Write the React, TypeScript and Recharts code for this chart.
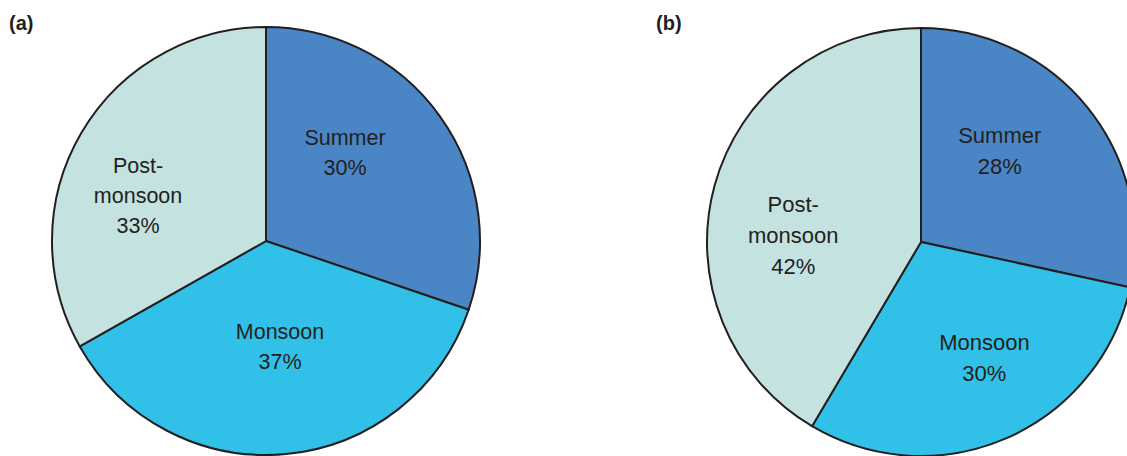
import React from 'react';
import { PieChart, Pie, Cell } from 'recharts';

// ---- data ----
const seasons = ['Summer', 'Monsoon', 'Post-monsoon'];
const seasonLabelLines = [['Summer'], ['Monsoon'], ['Post-', 'monsoon']];
const sharesA = [30.2, 36.6, 33.2];
const sharesB = [28.4, 30.1, 41.5];
const printedA = ['30%', '37%', '33%'];
const printedB = ['28%', '30%', '42%'];
const panelTitles = ['(a)', '(b)'];

// ---- style / layout ----
const COLORS = ['#4A86C6', '#31C1E8', '#C3E2E0'];
const STROKE = '#231F20';
const FONT = '"Liberation Sans", Arial, Helvetica, sans-serif';
const W = 1127;
const H = 456;
const R = 214;
const panels = [
  { cx: 266, cy: 241, fontSize: 21.5, lineH: 30, labelPolar: [[119, 41.6], [106, 172.4], [136, 289.8]] },
  { cx: 921, cy: 242, fontSize: 22, lineH: 31, labelPolar: [[121, 40.6], [132, 151.3], [128, 273.3]] },
];

const buildData = (shares: number[], printed: string[]) =>
  seasons.map((name, i) => ({ name, value: shares[i], printed: printed[i] }));

const makeLabel = (panel: typeof panels[number]) => (props: any) => {
  const { cx, cy, index, payload } = props;
  const [rho, theta] = panel.labelPolar[index];
  const t = (theta * Math.PI) / 180;
  const x = cx + rho * Math.sin(t);
  const yc = cy - rho * Math.cos(t);
  const printed = payload?.printed ?? payload?.payload?.printed;
  const lines = [...seasonLabelLines[index], printed];
  const n = lines.length;
  const firstBaseline = yc - ((n - 1) / 2) * panel.lineH + panel.fontSize * 0.36;
  return (
    <text
      x={x}
      y={firstBaseline}
      textAnchor="middle"
      fill={STROKE}
      fontFamily={FONT}
      fontSize={panel.fontSize}
    >
      {lines.map((l, i) => (
        <tspan key={i} x={x} y={firstBaseline + i * panel.lineH}>
          {l}
        </tspan>
      ))}
    </text>
  );
};

const allShares = [sharesA, sharesB];
const allPrinted = [printedA, printedB];

export default function App() {
  return (
    <div style={{ position: 'absolute', left: 0, top: 0, width: W, height: H, overflow: 'hidden', background: '#fff' }}>
      <PieChart width={W} height={H} margin={{ top: 0, right: 0, bottom: 0, left: 0 }}>
        {panels.map((p, pi) => (
          <Pie
            key={pi}
            data={buildData(allShares[pi], allPrinted[pi])}
            dataKey="value"
            nameKey="name"
            cx={p.cx}
            cy={p.cy}
            outerRadius={R}
            innerRadius={0}
            startAngle={90}
            endAngle={-270}
            stroke={STROKE}
            strokeWidth={2}
            label={makeLabel(p)}
            labelLine={false}
            isAnimationActive={false}
          >
            {seasons.map((s, i) => (
              <Cell key={s} fill={COLORS[i]} stroke={STROKE} strokeWidth={2} />
            ))}
          </Pie>
        ))}
      </PieChart>
      <svg width={W} height={H} style={{ position: 'absolute', left: 0, top: 0, pointerEvents: 'none' }}>
        <text x={9} y={30} fontFamily={FONT} fontWeight="bold" fontSize={20} fill={STROKE}>
          {panelTitles[0]}
        </text>
        <text x={656} y={30} fontFamily={FONT} fontWeight="bold" fontSize={20} fill={STROKE}>
          {panelTitles[1]}
        </text>
      </svg>
    </div>
  );
}
